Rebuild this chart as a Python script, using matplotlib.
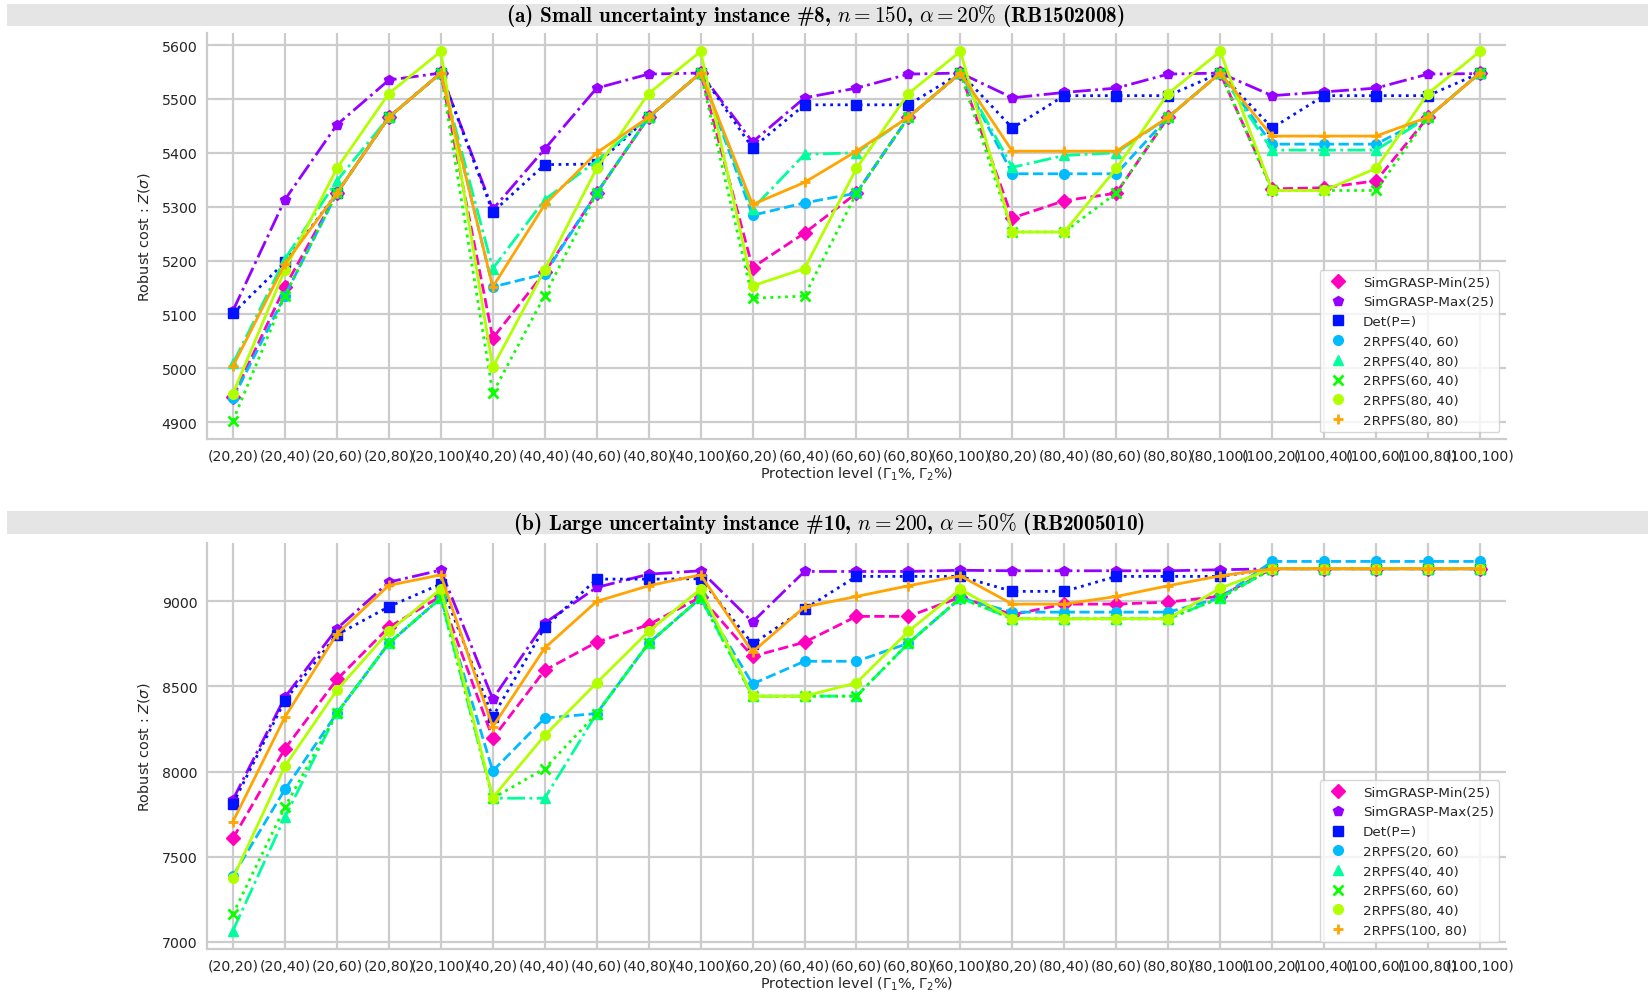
import numpy as np
import matplotlib
matplotlib.use("Agg")
import matplotlib.pyplot as plt
from matplotlib.lines import Line2D
from matplotlib.patches import Rectangle

categories = ["(20,20)", "(20,40)", "(20,60)", "(20,80)", "(20,100)",
              "(40,20)", "(40,40)", "(40,60)", "(40,80)", "(40,100)",
              "(60,20)", "(60,40)", "(60,60)", "(60,80)", "(60,100)",
              "(80,20)", "(80,40)", "(80,60)", "(80,80)", "(80,100)",
              "(100,20)", "(100,40)", "(100,60)", "(100,80)", "(100,100)"]

# ---- Panel (a) ----
labels_a = ["SimGRASP-Min(25)", "SimGRASP-Max(25)", "Det(P=)", "2RPFS(40, 60)",
            "2RPFS(40, 80)", "2RPFS(60, 40)", "2RPFS(80, 40)", "2RPFS(80, 80)"]
a_min = [4947, 5151, 5325, 5466, 5548, 5056, 5178, 5325, 5466, 5548, 5187, 5251, 5325,
         5466, 5548, 5279, 5311, 5325, 5466, 5548, 5333, 5335, 5348, 5466, 5548]
a_max = [5107, 5313, 5452, 5535, 5548, 5295, 5407, 5520, 5546, 5548, 5420, 5502, 5520,
         5546, 5548, 5502, 5512, 5520, 5546, 5548, 5506, 5513, 5520, 5546, 5547]
a_det = [5102, 5197, 5325, 5466, 5548, 5290, 5378, 5379, 5466, 5548, 5409, 5489, 5489,
         5489, 5548, 5446, 5506, 5506, 5506, 5548, 5446, 5506, 5506, 5506, 5548]
a_4060 = [4944, 5135, 5325, 5466, 5548, 5151, 5175, 5325, 5466, 5548, 5284, 5307, 5325,
          5466, 5548, 5361, 5361, 5361, 5466, 5548, 5416, 5416, 5416, 5466, 5548]
a_4080 = [5009, 5203, 5348, 5466, 5548, 5185, 5313, 5385, 5466, 5548, 5296, 5397, 5400,
          5466, 5548, 5373, 5395, 5400, 5466, 5548, 5405, 5405, 5405, 5466, 5548]
a_6040 = [4903, 5135, 5325, 5466, 5548, 4954, 5135, 5325, 5466, 5548, 5130, 5134, 5325,
          5466, 5548, 5253, 5253, 5325, 5466, 5548, 5330, 5330, 5330, 5466, 5548]
a_8040 = [4953, 5183, 5371, 5510, 5588, 5002, 5183, 5371, 5510, 5588, 5153, 5185, 5371,
          5510, 5588, 5253, 5253, 5371, 5510, 5588, 5330, 5330, 5371, 5510, 5588]
a_8080 = [5004, 5194, 5325, 5466, 5548, 5151, 5304, 5400, 5466, 5548, 5304, 5345, 5403,
          5466, 5548, 5403, 5403, 5403, 5466, 5548, 5431, 5431, 5431, 5466, 5548]

# ---- Panel (b) ----
labels_b = ["SimGRASP-Min(25)", "SimGRASP-Max(25)", "Det(P=)", "2RPFS(20, 60)",
            "2RPFS(40, 40)", "2RPFS(60, 60)", "2RPFS(80, 40)", "2RPFS(100, 80)"]
b_min = [7608, 8134, 8541, 8848, 9030, 8195, 8595, 8760, 8863, 9025, 8677, 8760, 8912,
         8912, 9025, 8922, 8984, 8984, 8996, 9030, 9192, 9192, 9192, 9192, 9192]
b_max = [7835, 8437, 8840, 9113, 9184, 8427, 8873, 9082, 9160, 9180, 8879, 9176, 9176,
         9176, 9183, 9180, 9180, 9180, 9180, 9186, 9192, 9192, 9192, 9192, 9192]
b_det = [7811, 8417, 8804, 8969, 9102, 8322, 8848, 9131, 9131, 9133, 8750, 8955, 9147,
         9147, 9147, 9059, 9059, 9147, 9147, 9147, 9192, 9192, 9192, 9192, 9192]
b_2060 = [7387, 7895, 8343, 8754, 9020, 8003, 8314, 8341, 8754, 9020, 8515, 8648, 8648,
          8754, 9020, 8937, 8937, 8937, 8937, 9020, 9235, 9235, 9235, 9235, 9235]
b_4040 = [7065, 7733, 8343, 8754, 9020, 7843, 7843, 8341, 8754, 9020, 8443, 8443, 8443,
          8754, 9020, 8898, 8898, 8898, 8898, 9020, 9192, 9192, 9192, 9192, 9192]
b_6060 = [7162, 7792, 8343, 8754, 9020, 7843, 8017, 8341, 8754, 9020, 8443, 8443, 8443,
          8754, 9020, 8898, 8898, 8898, 8898, 9020, 9192, 9192, 9192, 9192, 9192]
b_8040 = [7373, 8032, 8478, 8824, 9072, 7847, 8212, 8521, 8824, 9072, 8443, 8443, 8521,
          8824, 9072, 8898, 8898, 8898, 8898, 9078, 9192, 9192, 9192, 9192, 9192]
b_10080 = [7706, 8320, 8808, 9094, 9156, 8263, 8726, 9000, 9092, 9156, 8703, 8967, 9029,
           9092, 9150, 8984, 8984, 9029, 9092, 9150, 9192, 9192, 9192, 9192, 9192]

series_a = [a_min, a_max, a_det, a_4060, a_4080, a_6040, a_8040, a_8080]
series_b = [b_min, b_max, b_det, b_2060, b_4040, b_6060, b_8040, b_10080]

cmap = plt.get_cmap("gist_rainbow")
colors = [cmap(v) for v in np.linspace(1.0, 0.15, 8)]
markers = ["D", "p", "s", "o", "^", "x", "o", "+"]
linestyles = ["--", "-.", ":", "--", "-.", ":", "-", "-"]

FS_TICK = 10.2
FS_LAB = 10.4
FS_LEG = 9.7
TXT = "#262626"
GRID = "#cccccc"

fig = plt.figure(figsize=(16.48, 9.95), dpi=100)
ax1 = fig.add_axes([0.1256, 0.5578, 0.7882, 0.4080])
ax2 = fig.add_axes([0.1256, 0.0452, 0.7882, 0.4081])

x = np.arange(len(categories))


def draw(ax, series, labels):
    handles = []
    for s, lab, c, m, ls in zip(series, labels, colors, markers, linestyles):
        mew = 2.0 if m in ("x", "+") else 1.0
        ax.plot(x, s, color=c, linestyle=ls, linewidth=2.0, marker=m,
                markersize=7, markeredgewidth=mew, markeredgecolor=c)
        handles.append(Line2D([], [], color=c, linestyle="None", marker=m,
                              markersize=7, markeredgewidth=mew, label=lab))
    ax.set_xlim(-0.5, len(categories) - 0.5)
    ax.set_xticks(x)
    ax.set_xticklabels(categories)
    ax.set_axisbelow(True)
    ax.grid(True, color=GRID, linewidth=1.6)
    for side in ("top", "right"):
        ax.spines[side].set_visible(False)
    for side in ("left", "bottom"):
        ax.spines[side].set_color(GRID)
        ax.spines[side].set_linewidth(1.6)
    ax.tick_params(axis="both", length=0, pad=7, labelsize=FS_TICK, labelcolor=TXT)
    ax.set_xlabel(r"Protection level ($\Gamma_1\%, \Gamma_2\%$)", fontsize=FS_LAB,
                  color=TXT, labelpad=1)
    ax.set_ylabel(r"Robust cost : $Z(\sigma)$", fontsize=FS_LAB, color=TXT, labelpad=7)
    leg = ax.legend(handles=handles, loc="lower right", fontsize=FS_LEG, frameon=True,
                    framealpha=0.8, edgecolor=GRID)
    for t in leg.get_texts():
        t.set_color(TXT)


draw(ax1, series_a, labels_a)
draw(ax2, series_b, labels_b)
ax1.set_yticks([4900, 5000, 5100, 5200, 5300, 5400, 5500, 5600])
ax2.set_yticks([7000, 7500, 8000, 8500, 9000])

# title bars
bars = [(0.9729, 0.0221), (0.4623, 0.0231)]
for y0, h in bars:
    fig.patches.append(Rectangle((0.004, y0), 0.996, h, transform=fig.transFigure,
                                 facecolor="#e5e5e5", edgecolor="none", zorder=0))

title_a = r"(a) Small uncertainty instance #8, $n=150$, $\alpha=20\%$ (RB1502008)"
title_b = r"(b) Large uncertainty instance #10, $n=200$, $\alpha=50\%$ (RB2005010)"
for (y0, h), t, xc in zip(bars, [title_a, title_b], [0.495, 0.503]):
    fig.text(xc, y0 + h / 2, t, ha="center", va="center", fontsize=15.3,
             family="cmb10", math_fontfamily="cm", color="black")

fig.savefig("out.png", dpi=100)
